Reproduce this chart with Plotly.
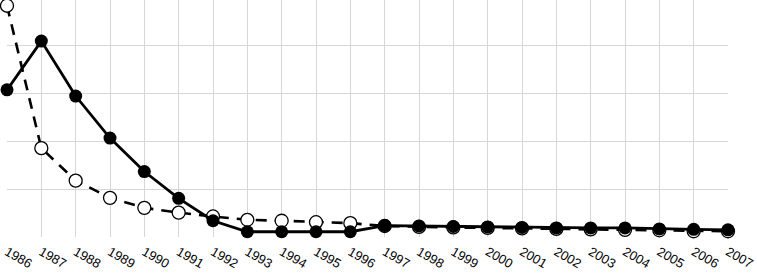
import plotly.graph_objects as go

years = list(range(1986, 2008))
solid_vals = [3.08, 4.10, 2.95, 2.07, 1.37, 0.81, 0.34, 0.11, 0.11, 0.11, 0.11,
              0.24, 0.23, 0.22, 0.21, 0.20, 0.19, 0.19, 0.19, 0.17, 0.16, 0.15]
dashed_vals = [4.84, 1.86, 1.18, 0.82, 0.61, 0.51, 0.43, 0.36, 0.34, 0.31, 0.29,
               0.23, 0.21, 0.20, 0.19, 0.18, 0.17, 0.16, 0.15, 0.14, 0.12, 0.12]
tick_labels = [str(y) for y in years]

fig = go.Figure()
fig.add_trace(go.Scatter(
    x=years, y=dashed_vals, mode="lines+markers",
    line=dict(color="black", width=2.6, dash="11px,8px"),
    marker=dict(symbol="circle", size=13, color="white",
                line=dict(color="black", width=1.3)),
    cliponaxis=False, showlegend=False))
fig.add_trace(go.Scatter(
    x=years, y=solid_vals, mode="lines+markers",
    line=dict(color="black", width=2.8),
    marker=dict(symbol="circle", size=13, color="black"),
    cliponaxis=False, showlegend=False))

fig.update_layout(
    width=757, height=276,
    margin=dict(l=7, r=29, t=0, b=39),
    paper_bgcolor="white", plot_bgcolor="white",
    font=dict(family="Liberation Sans, Arial, sans-serif", size=12, color="black"),
    xaxis=dict(range=[1986, 2007], tickmode="array", tickvals=years,
               ticktext=tick_labels, tickangle=30, showgrid=True,
               gridcolor="#d6d6d6", gridwidth=1, zeroline=False,
               showline=False, ticks="", automargin=False,
               ticklabelstandoff=4,
               tickfont=dict(family="Liberation Sans", color="black", size=13)),
    yaxis=dict(range=[0, 4.96], dtick=1, showgrid=True, gridcolor="#d6d6d6",
               gridwidth=1, zeroline=False, showticklabels=False,
               showline=False, ticks="", automargin=False),
)
fig.write_html("out.html", config={"displayModeBar": False},
               post_script="document.body.style.margin='0';document.body.style.overflow='hidden';")
